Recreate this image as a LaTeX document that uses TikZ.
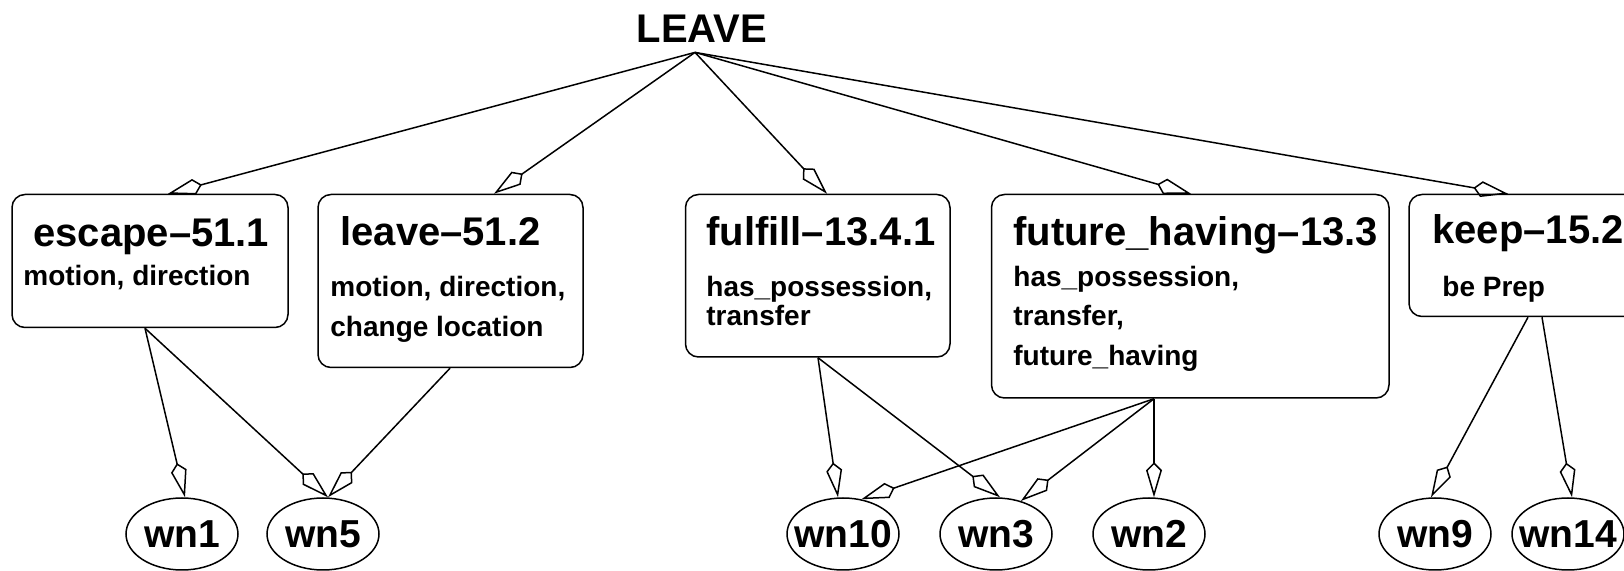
\documentclass[tikz,border=0pt]{standalone}
\usepackage{fontspec}
\setmainfont{Liberation Sans}
\usetikzlibrary{arrows.meta,fit,shapes.geometric}

\tikzset{
  box/.style={draw, rounded corners=6.5pt, line width=0.75pt, inner sep=0pt},
  title/.style={inner sep=0pt, anchor=base west, font=\bfseries\fontsize{20pt}{24pt}\selectfont},
  feat/.style={inner sep=0pt, anchor=base west, font=\bfseries\fontsize{14pt}{17pt}\selectfont},
  sense/.style={draw, ellipse, line width=0.75pt, minimum width=56pt, minimum height=36pt,
    inner sep=0pt, font=\bfseries\fontsize{19.5pt}{23pt}\selectfont},
  link/.style={line width=0.75pt, line join=miter, -{Kite[open, length=17.5pt, width=8pt, inset=4pt]}}
}
% sense label that does not widen its ellipse
\newcommand{\wnlabel}[1]{\makebox[0pt]{#1}}

\begin{document}
\begin{tikzpicture}[x=0.5pt, y=-0.5pt]
  \useasboundingbox (0,0) rectangle (1624,571);

  % Verb
  \node[inner sep=4.5pt, anchor=base, font=\bfseries\fontsize{20pt}{24pt}\selectfont] (verb) at (702,43) {LEAVE};

  % Classes
  \node[box, fit={(12,194.5) (288,327.5)}] (escape) {};
  \node[title] (escT) at (33,246.5) {escape–51.1};
  \node[feat] (escF) at (23,285.5) {motion, direction};

  \node[box, fit={(318,194.5) (583,367.5)}] (leave) {};
  \node[title] (leaT) at (340,246) {leave–51.2};
  \node[feat] (leaF1) at (330,296.5) {motion, direction,};
  \node[feat] (leaF2) at (330,336.5) {change location};

  \node[box, fit={(685.5,194.5) (950,357)}] (fulfill) {};
  \node[title] (fulT) at (706,246) {fulfill–13.4.1};
  \node[feat] (fulF1) at (706,296.5) {has\_possession,};
  \node[feat] (fulF2) at (706,326) {transfer};

  \node[box, fit={(991.5,194.5) (1389,398)}] (future) {};
  \node[title] (futT) at (1013,246) {future\_having–13.3};
  \node[feat] (futF1) at (1013,286.5) {has\_possession,};
  \node[feat] (futF2) at (1013,325.5) {transfer,};
  \node[feat] (futF3) at (1013,366) {future\_having};

  \node[box, fit={(1409,194.5) (1660,316.5)}] (keep) {};
  \node[title] (keeT) at (1432,243.5) {keep–15.2};
  \node[feat] (keeF) at (1442,296.5) {be Prep};

  % WordNet senses
  \node[sense] (wn1) at (182,534) {\wnlabel{wn1}};
  \node[sense] (wn5) at (323,534) {\wnlabel{wn5}};
  \node[sense] (wn10) at (843,534) {\wnlabel{wn10}};
  \node[sense] (wn3) at (996,534) {\wnlabel{wn3}};
  \node[sense] (wn2) at (1149,534) {\wnlabel{wn2}};
  \node[sense] (wn9) at (1435,534) {\wnlabel{wn9}};
  \node[sense] (wn14) at (1568,534) {\wnlabel{wn14}};

  % Verb to classes
  \draw[link] (verb.south -| 695,0) -- (escape.north -| 168,0);
  \draw[link] (verb.south -| 695,0) -- (leave.north -| 494,0);
  \draw[link] (verb.south -| 695,0) -- (fulfill.north -| 827,0);
  \draw[link] (verb.south -| 695,0) -- (future.north -| 1191,0);
  \draw[link] (verb.south -| 695,0) -- (keep.north -| 1508,0);

  % Classes to senses
  \draw[link] (escape.south -| 145,0) -- (wn1.north -| 185,0);
  \draw[link] (escape.south -| 145,0) -- (wn5.north -| 328,0);
  \draw[link] (leave.south -| 450,0) -- (wn5.north -| 328,0);
  \draw[link] (fulfill.south -| 818,0) -- (wn10.north -| 838,0);
  \draw[link] (fulfill.south -| 818,0) -- (wn3.north -| 1000,0);
  \draw[link] (future.south -| 1154,0) -- (wn10.62);
  \draw[link] (future.south -| 1154,0) -- (wn3.53);
  \draw[link] (future.south -| 1154,0) -- (wn2.north -| 1154,0);
  \draw[link] (keep.south -| 1528,0) -- (wn9.north -| 1431,0);
  \draw[link] (keep.south -| 1542,0) -- (wn14.north -| 1572,0);
\end{tikzpicture}
\end{document}
